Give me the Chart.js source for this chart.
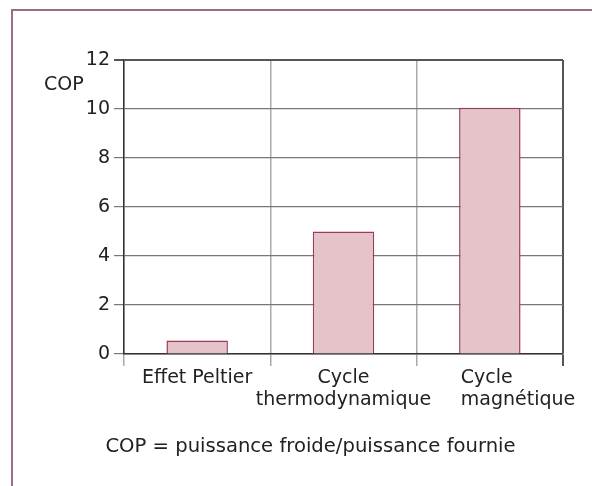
<!DOCTYPE html>
<html>
<head>
    <meta charset="utf-8">
    <title>COP comparaison</title>
    <style>
        body {
            margin: 0;
            background: #fff;
            font-family: "DejaVu Sans", Verdana, sans-serif;
        }
        #wrap {
            position: relative;
            width: 592px;
            height: 486px;
            overflow: hidden;
        }
        #frame {
            position: absolute;
            left: 11px;
            top: 9px;
            width: 600px;
            height: 500px;
            border-left: 2px solid #9b6b8a;
            border-top: 2px solid #9b6b8a;
        }
        #ytitle {
            position: absolute;
            left: 44px;
            top: 72px;
            font-size: 19px;
            color: #222;
        }
        #caption {
            position: absolute;
            left: 0;
            width: 621px;
            top: 434px;
            text-align: center;
            font-size: 19.6px;
            color: #222;
        }
        canvas {
            position: absolute;
            left: 0;
            top: 0;
        }
    </style>
</head>
<body>
<div id="wrap">
    <div id="frame"></div>
    <canvas id="copChart" width="592" height="486"></canvas>
    <div id="ytitle">COP</div>
    <div id="caption">COP = puissance froide/puissance fournie</div>
</div>

<script src="https://cdn.jsdelivr.net/npm/chart.js"></script>

<script>
    // values
    const categories = [['Effet Peltier'], ['Cycle', 'thermodynamique'], ['Cycle', 'magnétique']];
    const copValues = [0.55, 5, 10.05];
    const yTicks = [0, 2, 4, 6, 8, 10, 12];

    const ctx = document.getElementById('copChart').getContext('2d');
    const fontFamily = '"DejaVu Sans", Verdana, sans-serif';

    // x labels drawn by hand: the last one is left aligned in the original
    // so it does not run into "thermodynamique"
    const xLabels = {
        id: 'xLabels',
        afterDraw(chart) {
            const x = chart.scales.x;
            const c = chart.ctx;
            c.save();
            c.font = '19px ' + fontFamily;
            c.fillStyle = '#222';
            c.textBaseline = 'middle';
            chart.data.labels.forEach((lines, i) => {
                let px = x.getPixelForTick(i);
                if (i === chart.data.labels.length - 1) {
                    c.textAlign = 'left';
                    px -= 29;
                } else {
                    c.textAlign = 'center';
                }
                lines.forEach((line, j) => {
                    c.fillText(line, px, x.top + 24 + j * 22);
                });
            });
            c.restore();
        }
    };

    new Chart(ctx, {
        type: 'bar',
        data: {
            labels: categories,
            datasets: [{
                label: 'COP',
                data: copValues,
                backgroundColor: '#e4c4c9',
                borderColor: '#9c3a5c',
                borderWidth: 1.5,
                borderSkipped: 'bottom',
                barPercentage: 0.42,
                categoryPercentage: 1
            }]
        },
        options: {
            responsive: false,
            animation: false,
            layout: {
                padding: { left: 0, top: 60, right: 29, bottom: 52 }
            },
            plugins: {
                legend: { display: false },
                tooltip: { enabled: false }
            },
            scales: {
                x: {
                    afterFit: (scale) => { scale.height = 80; },
                    grid: {
                        offset: true,
                        drawTicks: true,
                        tickLength: 12,
                        color: (c) => c.type !== 'tick' ? '#555' : '#aaa',
                        lineWidth: (c) => c.type !== 'tick' ? 2 : 1.5
                    },
                    border: { color: '#333', width: 1.5 },
                    ticks: {
                        display: false,
                        autoSkip: false
                    }
                },
                y: {
                    min: 0,
                    max: 12,
                    afterFit: (scale) => { scale.width = 124; },
                    afterBuildTicks: (scale) => {
                        scale.ticks = yTicks.map(v => ({ value: v }));
                    },
                    grid: {
                        tickLength: 10,
                        color: (c) => c.tick && c.tick.value === 12 ? '#555' : '#777',
                        lineWidth: (c) => c.tick && c.tick.value === 12 ? 2 : 1.2
                    },
                    border: { color: '#333', width: 1.5 },
                    ticks: {
                        color: '#222',
                        padding: 4,
                        font: { family: fontFamily, size: 19 }
                    }
                }
            }
        },
        plugins: [xLabels]
    });
</script>
</body>
</html>
